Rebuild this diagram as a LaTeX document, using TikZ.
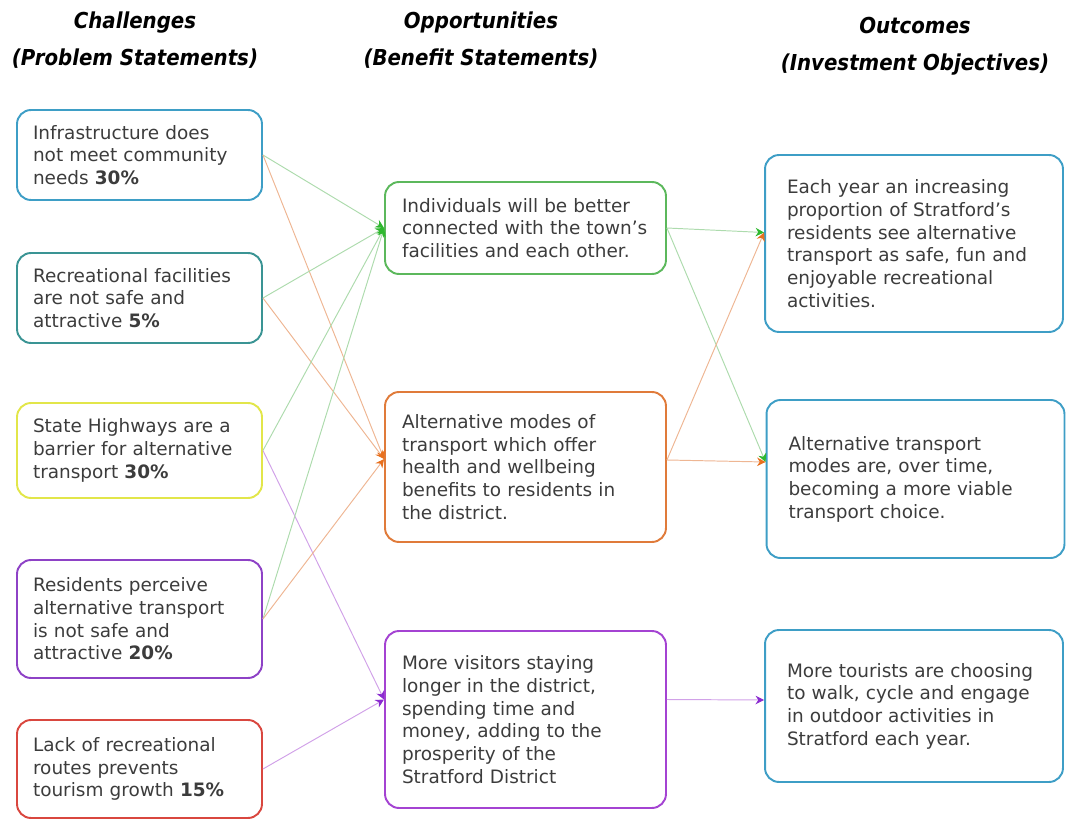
\documentclass[tikz,border=0pt]{standalone}
\usepackage{fontspec}
\setmainfont{DejaVu Sans}
\newfontfamily\headfont{DejaVu Sans Condensed}
\usepackage{xcolor}
\usepackage{tikz}
\usetikzlibrary{arrows.meta}
\definecolor{txtgray}{HTML}{3C3C3C}
\definecolor{boxblue}{HTML}{3E9EC6}
\definecolor{boxteal}{HTML}{3A9494}
\definecolor{boxyellow}{HTML}{E2E64A}
\definecolor{boxpurple}{HTML}{8E42C6}
\definecolor{boxviolet}{HTML}{A443D2}
\definecolor{boxred}{HTML}{D9473F}
\definecolor{boxgreen}{HTML}{5CB85C}
\definecolor{boxorange}{HTML}{E07B3A}
\definecolor{tipgreen}{HTML}{2EB82E}
\definecolor{tiporange}{HTML}{E8701E}
\definecolor{tippurple}{HTML}{8A2BD0}
\tikzset{
x=0.02cm, y=-0.02cm, % one unit is one pixel of the layout, y runs downwards
box/.style={draw, rounded corners=0.28cm, line width=1.1pt, align=left, text=txtgray,
  font=\fontsize{10.5}{12.9}\selectfont}, % sets the look of every statement box
chal/.style={box, inner xsep=0.32cm, text width=4.26cm}, % left column
oppo/.style={box, inner xsep=0.34cm, text width=4.94cm}, % middle column
outc/.style={box, inner xsep=0.44cm, text width=5.08cm}, % right column
head/.style={align=center, font=\headfont\bfseries\itshape\fontsize{12.5}{14}\selectfont}, % column titles
link/.style={line width=0.55pt}, % connectors between the boxes
glink/.style={link, color=boxgreen!50, -{Stealth[length=1.7mm, width=1.7mm, color=tipgreen]}},
olink/.style={link, color=boxorange!55, -{Stealth[length=1.7mm, width=1.7mm, color=tiporange]}},
plink/.style={link, color=boxviolet!50, -{Stealth[length=1.7mm, width=1.7mm, color=tippurple]}},
}
\begin{document}
\begin{tikzpicture}
        \useasboundingbox (0,0) rectangle (1066,821);

        \node[head] (hchal) at (135,40) {Challenges\\[7pt](Problem Statements)};
        \node[head] (hoppo) at (481,40) {Opportunities\\[7pt](Benefit Statements)};
        \node[head] (houtc) at (915,46) {Outcomes\\[7pt](Investment Objectives)};

        \node[chal, draw=boxblue, minimum height=1.8cm] (prob1) at (139.5,155) {Infrastructure does\\not meet community\\needs \textbf{30\%}};
        \node[chal, draw=boxteal, minimum height=1.8cm] (prob2) at (139.5,298) {Recreational facilities\\are not safe and\\attractive \textbf{5\%}};
        \node[chal, draw=boxyellow, minimum height=1.9cm] (prob3) at (139.5,450.5) {State Highways are a\\barrier for alternative\\transport \textbf{30\%}};
        \node[chal, draw=boxpurple, minimum height=2.36cm] (prob4) at (139.5,619) {Residents perceive\\alternative transport\\is not safe and\\attractive \textbf{20\%}};
        \node[chal, draw=boxred, minimum height=1.96cm] (prob5) at (139.5,769) {Lack of recreational\\routes prevents\\tourism growth \textbf{15\%}};

        \node[oppo, draw=boxgreen, minimum height=1.84cm] (ben1) at (525.5,228) {Individuals will be better\\connected with the town’s\\facilities and each other.};
        \node[oppo, draw=boxorange, minimum height=3cm] (ben2) at (525.5,467) {Alternative modes of\\transport which offer\\health and wellbeing\\benefits to residents in\\the district.};
        \node[oppo, draw=boxviolet, minimum height=3.54cm] (ben3) at (525.5,719.5) {More visitors staying\\longer in the district,\\spending time and\\money, adding to the\\prosperity of the\\Stratford District};

        \node[outc, draw=boxblue, minimum height=3.54cm] (obj1) at (914,243.5) {Each year an increasing\\proportion of Stratford’s\\residents see alternative\\transport as safe, fun and\\enjoyable recreational\\activities.};
        \node[outc, draw=boxblue, minimum height=3.16cm] (obj2) at (915.5,479) {Alternative transport\\modes are, over time,\\becoming a more viable\\transport choice.};
        \node[outc, draw=boxblue, minimum height=3.04cm] (obj3) at (914,706) {More tourists are choosing\\to walk, cycle and engage\\in outdoor activities in\\Stratford each year.};

        \draw (prob1.east) edge[glink] (ben1.west)
                           edge[olink] ([yshift=0.16cm]ben2.west)
              (prob2.east) edge[glink] (ben1.west)
                           edge[olink] ([yshift=0.16cm]ben2.west)
              (prob3.east) edge[glink] (ben1.west)
                           edge[plink] ([yshift=0.4cm]ben3.west)
              (prob4.east) edge[glink] (ben1.west)
                           edge[olink] ([yshift=0.16cm]ben2.west)
              (prob5.east) edge[plink] ([yshift=0.4cm]ben3.west)
              (ben1.east) edge[glink] ([yshift=0.22cm]obj1.west)
                          edge[glink] ([yshift=0.34cm]obj2.west)
              ([yshift=0.14cm]ben2.east) edge[olink] ([yshift=0.22cm]obj1.west)
                                         edge[olink] ([yshift=0.34cm]obj2.west)
              ([yshift=0.4cm]ben3.east) edge[plink] ([yshift=0.12cm]obj3.west);
\end{tikzpicture}
\end{document}
